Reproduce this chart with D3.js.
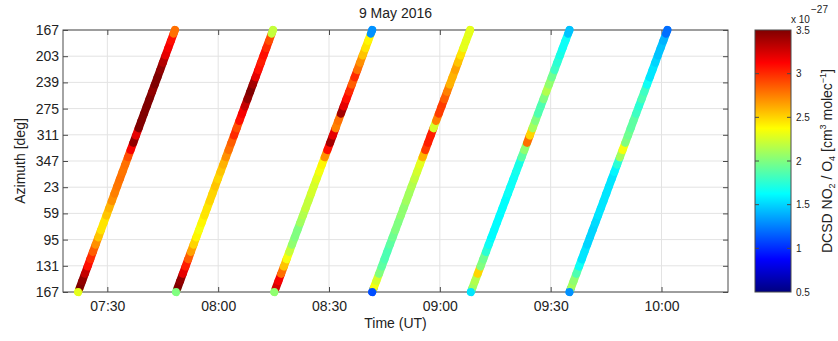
<!DOCTYPE html>
<html>
<head>
<meta charset="utf-8">
<style>
body { margin: 0; background: #fff; }
text { font-family: "Liberation Sans", Arial, sans-serif; fill: #222; }
</style>
</head>
<body>
<div id="chart"></div>
<script src="https://cdn.jsdelivr.net/npm/d3@7/dist/d3.min.js"></script>
<script>
// date of the measurements
var day = "2016-05-09 ";

// start / end of each azimuth scan (UT)
var scanStart = ["07:22:06", "07:48:36", "08:15:12", "08:41:42", "09:08:24", "09:35:06"];
var scanEnd   = ["07:48:18", "08:14:51", "08:41:42", "09:08:12", "09:35:06", "10:01:36"];

// azimuth positions of each scan, unwrapped (527 = 167 deg at the bottom)
var azimuthPos = [527, 517, 507, 497, 487, 477, 467, 457, 447, 437, 427, 417, 407, 397, 387, 377, 367, 357, 347,
                  337, 327, 317, 307, 297, 287, 277, 267, 257, 247, 237, 227, 217, 207, 197, 187, 177, 167];

// DCSD NO2/O4 values (x 1e-27), one per azimuth position
var scan1 = [2.3, 3.5, 3.45, 3.3, 3.1, 3.0, 2.85, 2.7, 2.55, 2.45, 2.45, 2.55, 2.6, 2.7, 2.75, 2.78, 2.8, 2.78, 2.8,
             2.9, 3.15, 3.45, 3.2, 3.5, 3.5, 3.5, 3.5, 3.5, 3.45, 3.5, 3.5, 3.45, 3.35, 3.2, 3.15, 3.1, 2.8];
var scan2 = [2.0, 3.5, 3.45, 3.2, 3.05, 2.85, 2.65, 2.5, 2.4, 2.35, 2.4, 2.45, 2.45, 2.5, 2.5, 2.55, 2.5, 2.55, 2.6,
             2.7, 2.8, 2.85, 3.0, 2.9, 3.1, 3.15, 3.3, 3.45, 3.5, 3.4, 3.2, 3.1, 3.05, 3.1, 3.0, 2.9, 2.2];
var scan3 = [2.05, 3.25, 3.15, 2.8, 2.55, 2.35, 2.2, 2.05, 2.0, 2.0, 2.1, 2.15, 2.2, 2.2, 2.25, 2.25, 2.3, 2.35, 2.4,
             2.7, 3.1, 3.4, 3.2, 2.75, 2.8, 3.4, 3.2, 3.1, 3.0, 2.85, 3.0, 2.8, 2.7, 2.55, 2.45, 2.4, 1.3];
var scan4 = [1.1, 2.35, 2.25, 2.0, 1.9, 1.85, 1.85, 1.9, 1.95, 2.0, 2.0, 2.05, 2.05, 2.1, 2.1, 2.15, 2.2, 2.25, 2.3,
             2.6, 2.95, 3.05, 3.05, 2.25, 2.75, 2.95, 2.95, 2.85, 2.75, 2.6, 2.6, 2.65, 2.55, 2.45, 2.3, 2.3, 2.3];
var scan5 = [1.55, 2.1, 2.15, 2.5, 2.0, 1.95, 1.75, 1.65, 1.62, 1.62, 1.62, 1.62, 1.63, 1.63, 1.65, 1.65, 1.65, 1.68, 1.7,
             1.9, 2.05, 2.8, 2.5, 2.1, 2.0, 1.85, 1.85, 2.0, 2.15, 2.05, 1.95, 1.8, 1.75, 1.7, 1.65, 1.65, 1.45];
var scan6 = [1.3, 2.1, 2.05, 1.85, 1.65, 1.55, 1.55, 1.5, 1.5, 1.5, 1.52, 1.55, 1.55, 1.55, 1.55, 1.55, 1.55, 1.6, 1.75,
             2.1, 2.35, 2.0, 1.95, 1.9, 1.9, 1.8, 1.75, 1.85, 1.8, 1.65, 1.55, 1.55, 1.5, 1.45, 1.45, 1.4, 1.2];
var scans = [scan1, scan2, scan3, scan4, scan5, scan6];

// axis ticks
var timeTicks = ["07:30:00", "08:00:00", "08:30:00", "09:00:00", "09:30:00", "10:00:00"];
var azTicks = [167, 203, 239, 275, 311, 347, 383, 419, 455, 491, 527];
var cbarTicks = [0.5, 1, 1.5, 2, 2.5, 3, 3.5];

// jet colour map
var jetStops = [0.5, 0.875, 1.625, 2.375, 3.125, 3.5];
var jetColors = ["#000080", "#0000ff", "#00ffff", "#ffff00", "#ff0000", "#800000"];

var W = 838, H = 341;
var plot = { left: 63, right: 728, top: 30, bottom: 292 };
var cbar = { left: 755, right: 791 };
var axisColor = "#4a4a4a";

var parse = d3.utcParse("%Y-%m-%d %H:%M:%S");

var svg = d3.select("#chart").append("svg")
  .attr("width", W)
  .attr("height", H)
  .style("background", "#fff");

var x = d3.scaleUtc()
  .domain([parse(day + "07:18:00"), parse(day + "10:18:00")])
  .range([plot.left, plot.right]);

var y = d3.scaleLinear()
  .domain([167, 527])
  .range([plot.top, plot.bottom]);

var color = d3.scaleLinear()
  .domain(jetStops)
  .range(jetColors)
  .clamp(true);

var tickDates = timeTicks.map(function(t) { return parse(day + t); });

// grid lines
var grid = svg.append("g");
grid.selectAll(".gx").data(tickDates).enter().append("line")
  .attr("x1", function(d) { return x(d); }).attr("x2", function(d) { return x(d); })
  .attr("y1", plot.top).attr("y2", plot.bottom)
  .attr("stroke", "#e3e3e3");
grid.selectAll(".gy").data(azTicks).enter().append("line")
  .attr("x1", plot.left).attr("x2", plot.right)
  .attr("y1", function(d) { return y(d); }).attr("y2", function(d) { return y(d); })
  .attr("stroke", "#e3e3e3");

// axes (ticks point inward)
function styleAxis(g) {
  g.select(".domain").remove();
  g.selectAll(".tick line").attr("stroke", axisColor);
  g.selectAll(".tick text")
    .style("font-family", "'Liberation Sans', Arial, sans-serif")
    .style("font-size", "14px")
    .attr("fill", "#222");
}

svg.append("g")
  .attr("transform", "translate(0," + plot.bottom + ")")
  .call(d3.axisBottom(x).tickValues(tickDates).tickFormat(d3.utcFormat("%H:%M"))
    .tickSizeInner(-5).tickSizeOuter(0).tickPadding(9))
  .call(styleAxis);

svg.append("g")
  .attr("transform", "translate(0," + plot.top + ")")
  .call(d3.axisTop(x).tickValues(tickDates).tickFormat("").tickSizeInner(-5).tickSizeOuter(0))
  .call(styleAxis);

svg.append("g")
  .attr("transform", "translate(" + plot.left + ",0)")
  .call(d3.axisLeft(y).tickValues(azTicks).tickFormat(function(d) { return d % 360; })
    .tickSizeInner(-5).tickSizeOuter(0).tickPadding(4))
  .call(styleAxis);

svg.append("g")
  .attr("transform", "translate(" + plot.right + ",0)")
  .call(d3.axisRight(y).tickValues(azTicks).tickFormat("").tickSizeInner(-5).tickSizeOuter(0))
  .call(styleAxis);

// frame
svg.append("rect")
  .attr("x", plot.left).attr("y", plot.top)
  .attr("width", plot.right - plot.left).attr("height", plot.bottom - plot.top)
  .attr("fill", "none").attr("stroke", axisColor);

// scans
var defs = svg.append("defs");
defs.append("filter").attr("id", "soft")
  .attr("x", "-10%").attr("y", "-10%").attr("width", "120%").attr("height", "120%")
  .append("feGaussianBlur").attr("stdDeviation", 0.5);

var scanLayer = svg.append("g").attr("filter", "url(#soft)");

scans.forEach(function(vals, s) {
  var t0 = parse(day + scanStart[s]), t1 = parse(day + scanEnd[s]);
  var a0 = azimuthPos[0], a1 = azimuthPos[azimuthPos.length - 1];
  var pts = azimuthPos.map(function(az, i) {
    var f = (a0 - az) / (a0 - a1);
    return { x: x(new Date(+t0 + f * (t1 - t0))), y: y(az), v: vals[i] };
  });

  var segs = pts.map(function(p, i) {
    var a = i > 0 ? pts[i - 1] : p;
    var b = i < pts.length - 1 ? pts[i + 1] : p;
    return {
      x1: (a.x + p.x) / 2, y1: (a.y + p.y) / 2,
      x2: (b.x + p.x) / 2, y2: (b.y + p.y) / 2,
      v: p.v
    };
  });

  var g = scanLayer.append("g");
  g.selectAll("line").data(segs).enter().append("line")
    .attr("x1", function(d) { return d.x1; })
    .attr("y1", function(d) { return d.y1; })
    .attr("x2", function(d) { return d.x2; })
    .attr("y2", function(d) { return d.y2; })
    .attr("stroke", function(d) { return color(d.v); })
    .attr("stroke-width", 8)
    .attr("stroke-linecap", "round");

  // end points on top
  g.selectAll("circle").data([pts[0], pts[pts.length - 1]]).enter().append("circle")
    .attr("cx", function(d) { return d.x; })
    .attr("cy", function(d) { return d.y; })
    .attr("r", 3.9)
    .attr("fill", function(d) { return color(d.v); });
});

// axis labels and title
svg.append("text")
  .attr("x", (plot.left + plot.right) / 2).attr("y", 18)
  .attr("text-anchor", "middle")
  .style("font-size", "14px")
  .text("9 May 2016");

svg.append("text")
  .attr("x", (plot.left + plot.right) / 2).attr("y", 328)
  .attr("text-anchor", "middle")
  .style("font-size", "14px")
  .text("Time (UT)");

svg.append("text")
  .attr("transform", "translate(25," + ((plot.top + plot.bottom) / 2) + ") rotate(-90)")
  .attr("text-anchor", "middle")
  .style("font-size", "14px")
  .text("Azimuth [deg]");

// colour bar
var cy = d3.scaleLinear().domain([0.5, 3.5]).range([plot.bottom, plot.top]);

var grad = defs.append("linearGradient").attr("id", "jet")
  .attr("x1", 0).attr("y1", 1).attr("x2", 0).attr("y2", 0);
grad.selectAll("stop").data(jetStops).enter().append("stop")
  .attr("offset", function(d) { return (d - 0.5) / 3; })
  .attr("stop-color", function(d) { return color(d); });

svg.append("rect")
  .attr("x", cbar.left).attr("y", plot.top)
  .attr("width", cbar.right - cbar.left).attr("height", plot.bottom - plot.top)
  .attr("fill", "url(#jet)")
  .attr("stroke", axisColor);

var cbTicks = svg.append("g");
cbTicks.selectAll(".tl").data(cbarTicks.slice(1, -1)).enter().append("line")
  .attr("x1", cbar.left).attr("x2", cbar.left + 4)
  .attr("y1", function(d) { return cy(d); }).attr("y2", function(d) { return cy(d); })
  .attr("stroke", axisColor);
cbTicks.selectAll(".tr").data(cbarTicks.slice(1, -1)).enter().append("line")
  .attr("x1", cbar.right - 4).attr("x2", cbar.right)
  .attr("y1", function(d) { return cy(d); }).attr("y2", function(d) { return cy(d); })
  .attr("stroke", axisColor);
cbTicks.selectAll("text").data(cbarTicks).enter().append("text")
  .attr("x", cbar.right + 5)
  .attr("y", function(d) { return cy(d); })
  .attr("dy", "0.35em")
  .style("font-size", "10px")
  .text(function(d) { return d; });

svg.append("text")
  .attr("x", 791).attr("y", 23)
  .style("font-size", "10px")
  .text("x 10");
svg.append("text")
  .attr("x", 811).attr("y", 13)
  .style("font-size", "10px")
  .text("\u221227");

var cl = svg.append("text")
  .attr("transform", "translate(832," + ((plot.top + plot.bottom) / 2) + ") rotate(-90)")
  .attr("text-anchor", "middle")
  .style("font-size", "14px");
cl.append("tspan").text("DCSD NO");
cl.append("tspan").attr("dy", 2.5).style("font-size", "9px").text("2");
cl.append("tspan").attr("dy", -2.5).text(" / O");
cl.append("tspan").attr("dy", 2.5).style("font-size", "9px").text("4");
cl.append("tspan").attr("dy", -2.5).text(" [cm");
cl.append("tspan").attr("dy", -6).style("font-size", "9px").text("3");
cl.append("tspan").attr("dy", 6).text(" molec");
cl.append("tspan").attr("dy", -6).style("font-size", "9px").text("\u22121");
cl.append("tspan").attr("dy", 6).text("]");
</script>
</body>
</html>
